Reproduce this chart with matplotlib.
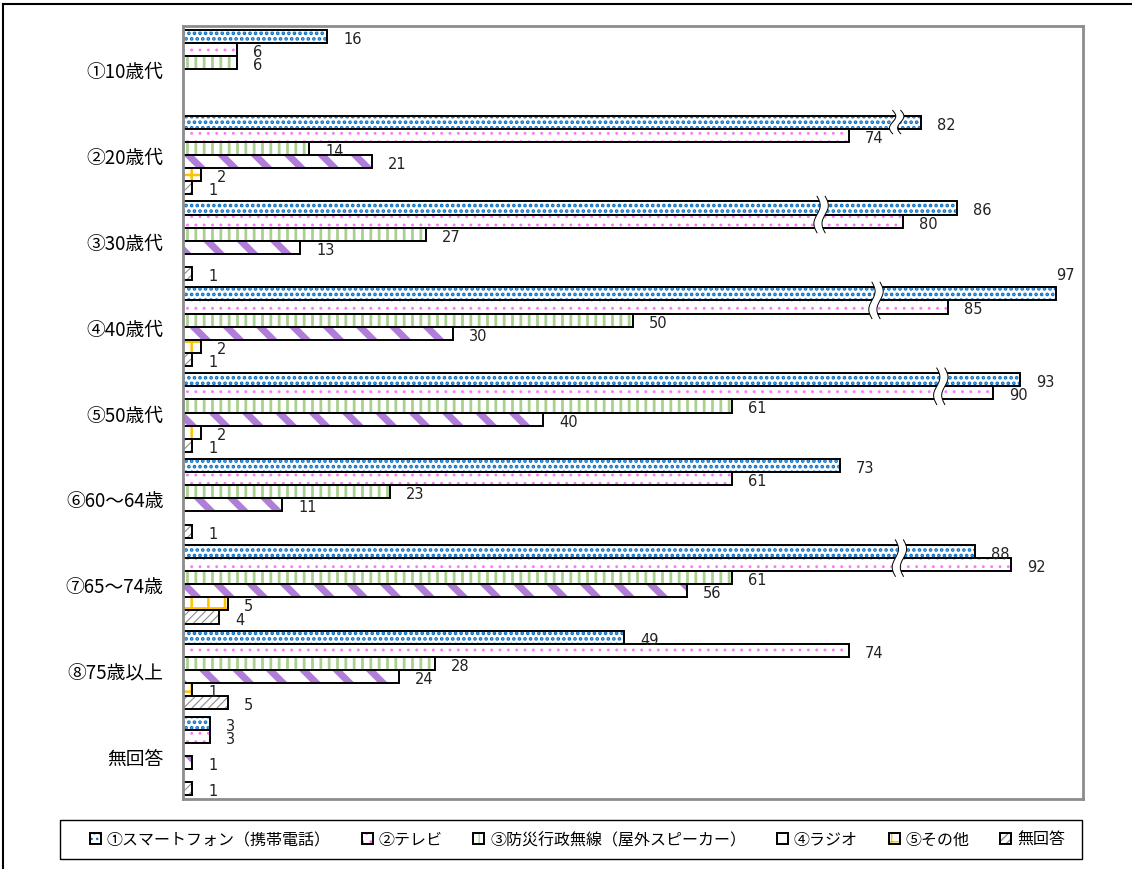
import numpy as np
import matplotlib
matplotlib.use("Agg")
import matplotlib.pyplot as plt
from matplotlib.patches import Patch, Polygon, Rectangle
from matplotlib.lines import Line2D
from matplotlib.legend_handler import HandlerTuple

plt.rcParams['font.family'] = ['Noto Sans CJK JP', 'DejaVu Sans']

# ── data ─────────────────────────────────────────────────────
categories = ["①10歳代", "②20歳代", "③30歳代", "④40歳代", "⑤50歳代",
              "⑥60～64歳", "⑦65～74歳", "⑧75歳以上", "無回答"]
series = ["①スマートフォン（携帯電話）", "②テレビ", "③防災行政無線（屋外スピーカー）",
          "④ラジオ", "⑤その他", "無回答"]

smartphone = [16, 82, 86, 97, 93, 73, 88, 49, 3]
tv         = [6, 74, 80, 85, 90, 61, 92, 74, 3]
bousai     = [6, 14, 27, 50, 61, 23, 61, 28, 0]
radio      = [0, 21, 13, 30, 40, 11, 56, 24, 1]
other      = [0, 2, 0, 2, 2, 0, 5, 1, 0]
no_answer  = [0, 1, 1, 1, 1, 1, 4, 5, 1]
values = [smartphone, tv, bousai, radio, other, no_answer]

# (group, x position of the break mark, number of bars it crosses)
breaks = [(1, 79.3, 1), (2, 70.9, 2), (3, 77.0, 2), (4, 84.2, 2), (6, 79.6, 2)]

# styles: (face, hatch, hatch colour, hatch linewidth)
styles = [
    ("white", "...", "#0a6fc2", 1.8),
    ("white", "..", "#ff77ff", 0.9),
    ("white", "||", "#a9d18e", 2.0),
    ("white", "\\", "#b07ed8", 5.0),
    ("white", "+", "#ffc000", 1.8),
    ("white", "////", "#8c8c8c", 0.8),
]

W, H, DPI = 1132, 870, 100
fig = plt.figure(figsize=(W / DPI, H / DPI), dpi=DPI)
ax = fig.add_axes([183 / W, 1 - 800 / H, 900 / W, 773 / H])

n_cat = len(categories)
bh = 13.1 / 85.9
y_base = np.arange(n_cat)


def styled_bar(ax, x, y, face, hatch, hcol, hlw, **kw):
    with plt.rc_context({"hatch.linewidth": hlw}):
        bars = ax.barh(y, x, height=bh, color=face, edgecolor=hcol,
                       hatch=hatch, linewidth=0, **kw)
        for b in bars:
            if hasattr(b, "set_hatch_linewidth"):
                b.set_hatch_linewidth(hlw)
    ax.barh(y, x, height=bh, facecolor="none", edgecolor="black",
            linewidth=1.4, **kw)


for j, (vals, st) in enumerate(zip(values, styles)):
    y = y_base + (j - 2.5) * bh
    v = np.array(vals, dtype=float)
    mask = v > 0
    styled_bar(ax, v[mask], y[mask], *st)

# break marks (wavy white gaps)
for g, xb, nb in breaks:
    top = g - 2.5 * bh - bh / 2 - 0.06
    bot = g - 2.5 * bh + (nb - 1) * bh + bh / 2 + 0.06
    t = np.linspace(0, 1, 40)
    ys = top + (bot - top) * t
    xl = xb - 0.45 + 0.35 * np.sin(2 * np.pi * t)
    xr = xl + 0.9
    poly = Polygon(np.column_stack([np.r_[xl, xr[::-1]], np.r_[ys, ys[::-1]]]),
                   closed=True, facecolor="white", edgecolor="none", zorder=5)
    ax.add_patch(poly)
    ax.plot(xl, ys, color="black", lw=0.7, zorder=6)
    ax.plot(xr, ys, color="black", lw=0.7, zorder=6)

# value labels
label_offsets = {(3, 0): (0, 19)}   # (group, series) -> pixel offset
for j, vals in enumerate(values):
    for i, v in enumerate(vals):
        if v <= 0:
            continue
        y = i + (j - 2.5) * bh
        dx, dy = label_offsets.get((i, j), (16, -2))
        ax.annotate(f"{v}", xy=(v, y), xytext=(dx * 0.72, dy * 0.72),
                    textcoords="offset points", ha="left", va="center",
                    fontsize=10.5, family="DejaVu Sans", color="#222222",
                    zorder=7)

ax.set_xlim(0, 100)
ax.set_ylim(n_cat - 0.5, -0.5)
ax.set_xticks([])
ax.set_yticks(y_base)
ax.set_yticklabels(categories, fontsize=13.5)
ax.tick_params(axis="y", length=0, pad=14)
for s in ax.spines.values():
    s.set_color("#8c8c8c")
    s.set_linewidth(2)

# legend
handles = []
for face, hatch, hcol, hlw in styles:
    with plt.rc_context({"hatch.linewidth": min(hlw, 2.0)}):
        h1 = Patch(facecolor=face, edgecolor=hcol, hatch=hatch, linewidth=0)
    h2 = Patch(facecolor="none", edgecolor="black", linewidth=1.4)
    handles.append((h1, h2))
fig.add_artist(Rectangle((60 / W, 1 - 860 / H), 1022 / W, 39 / H,
                         transform=fig.transFigure, facecolor="white",
                         edgecolor="black", lw=1.0))
leg = fig.legend(handles, series, loc="center", ncol=6, mode="expand",
                 bbox_to_anchor=(90 / W, 1 - 860 / H, 975 / W, 39 / H),
                 handler_map={tuple: HandlerTuple(ndivide=1, pad=0)},
                 handlelength=0.7, handleheight=0.7, handletextpad=0.35,
                 fontsize=11.5, frameon=False, borderaxespad=0, borderpad=0)

# outer border (top and left visible)
fig.add_artist(Line2D([3 / W, 3 / W], [0, 1 - 5 / H], transform=fig.transFigure,
                      color="black", lw=1.5))
fig.add_artist(Line2D([3 / W, 1], [1 - 5 / H, 1 - 5 / H], transform=fig.transFigure,
                      color="black", lw=1.5))

fig.savefig("out.png", dpi=DPI)
